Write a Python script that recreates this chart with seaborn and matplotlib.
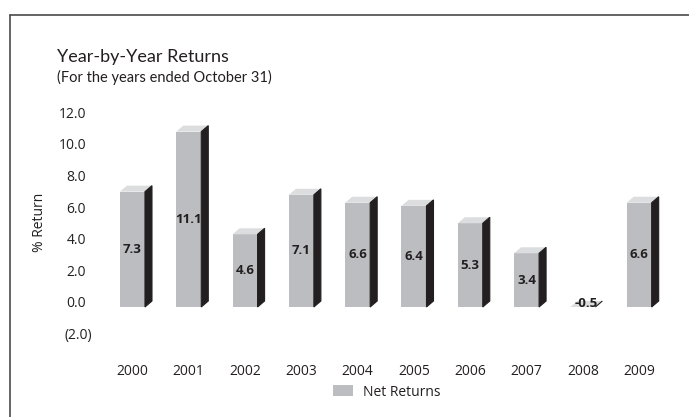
import pandas as pd
import matplotlib.pyplot as plt
import seaborn as sns
from matplotlib.patches import Polygon
from matplotlib.lines import Line2D
from matplotlib.transforms import ScaledTranslation

# ==========================================
# Data
# ==========================================

years = ["2000", "2001", "2002", "2003", "2004",
         "2005", "2006", "2007", "2008", "2009"]
net_returns = [7.3, 11.1, 4.6, 7.1, 6.6, 6.4, 5.3, 3.4, -0.5, 6.6]

y_ticks = [-2, 0, 2, 4, 6, 8, 10, 12]
y_tick_labels = ["(2.0)", "0.0", "2.0", "4.0", "6.0", "8.0", "10.0", "12.0"]

df = pd.DataFrame({"Year": years, "Net Returns": net_returns})

# ==========================================
# Style
# ==========================================

front_color = "#bcbdc1"
top_color = "#dcdddf"
side_color = "#231f20"
text_color = "#231f20"

sns.set_theme(style="white")
plt.rcParams["font.family"] = ["Open Sans", "DejaVu Sans"]
title_font = ["Lato", "DejaVu Sans"]

W, H = 689, 417
fig = plt.figure(figsize=(W / 100, H / 100), dpi=100)

# axes box in pixels
left, right, top, bottom = 100, 680, 100, 345
ax = fig.add_axes([left / W, 1 - bottom / H, (right - left) / W, (bottom - top) / H])

sns.barplot(
    data=df,
    x="Year",
    y="Net Returns",
    color=front_color,
    saturation=1,
    width=0.444,
    edgecolor="none",
    label="Net Returns",
    ax=ax
)

xlim = (-0.577, 9.725)
ylim = (-2.405, 13.10)
ax.set_xlim(*xlim)
ax.set_ylim(*ylim)

# 3D depth in data units (7 px right, 6 px up)
dx = 7 * (xlim[1] - xlim[0]) / (right - left)
dy = 6 * (ylim[1] - ylim[0]) / (bottom - top)

# ==========================================
# 3D faces + value labels
# ==========================================

for p, v in zip(ax.patches, net_returns):
    x0 = p.get_x()
    w = p.get_width()
    t = max(v, 0)

    ax.add_patch(Polygon(
        [(x0, t), (x0 + w, t), (x0 + w + dx, t + dy), (x0 + dx, t + dy)],
        closed=True, facecolor=top_color, edgecolor="none", zorder=3
    ))
    ax.add_patch(Polygon(
        [(x0 + w, 0), (x0 + w + dx, dy), (x0 + w + dx, t + dy), (x0 + w, t)],
        closed=True, facecolor=side_color, edgecolor=side_color,
        linewidth=0.8, zorder=3
    ))

    cx = x0 + w / 2
    if v >= 0:
        ax.text(cx, v / 2, f"{v:.1f}", ha="center", va="center",
                fontsize=9.5, fontweight="bold", color=text_color, zorder=4)
    else:
        # negative bar: only the floor face shows
        p.set_visible(False)
        ax.text(cx + dx / 2, t + dy * 0.6, f"{v:.1f}", ha="center", va="center",
                fontsize=9.5, fontweight="bold", color=text_color, zorder=4)

# ==========================================
# Axes
# ==========================================

sns.despine(ax=ax, left=True, bottom=True)
ax.set_yticks(y_ticks, y_tick_labels)
ax.tick_params(axis="y", length=0, pad=10, labelsize=10, labelcolor=text_color)
ax.tick_params(axis="x", length=0, pad=14, labelsize=10, labelcolor=text_color)

# tick labels sit on the back wall, 5 px above the bar fronts;
# the closing bracket of negatives hangs past the column
for lbl in ax.get_yticklabels():
    shift_x = 6 / 100 if lbl.get_text().startswith("(") else 0
    lbl.set_transform(lbl.get_transform() + ScaledTranslation(shift_x, 5 / 100, fig.dpi_scale_trans))

ax.set_xlabel("")
ax.set_ylabel("% Return", fontsize=10, color=text_color)
ax.yaxis.set_label_coords((47 - left) / (right - left), (bottom - 222) / (bottom - top))

ax.legend(
    loc="center",
    bbox_to_anchor=(387 / W, 1 - 392 / H),
    bbox_transform=fig.transFigure,
    frameon=False,
    fontsize=10,
    handlelength=1.45,
    handleheight=0.8,
    handletextpad=0.7,
    borderpad=0,
    labelcolor=text_color
)

# ==========================================
# Titles + frame
# ==========================================

fig.text(57 / W, 1 - 62 / H, "Year-by-Year Returns", family=title_font,
         fontsize=13, color=text_color, va="baseline")
fig.text(57 / W, 1 - 82 / H, "(For the years ended October 31)", family=title_font,
         fontsize=10.5, color=text_color, va="baseline")

fig.add_artist(Line2D([10 / W, 10 / W], [0, 1 - 14.5 / H], color="#4a4a4a",
                      lw=1.2, transform=fig.transFigure))
fig.add_artist(Line2D([10 / W, 1], [1 - 14.5 / H, 1 - 14.5 / H], color="#4a4a4a",
                      lw=1.2, transform=fig.transFigure))

fig.savefig("out.png", dpi=100)
